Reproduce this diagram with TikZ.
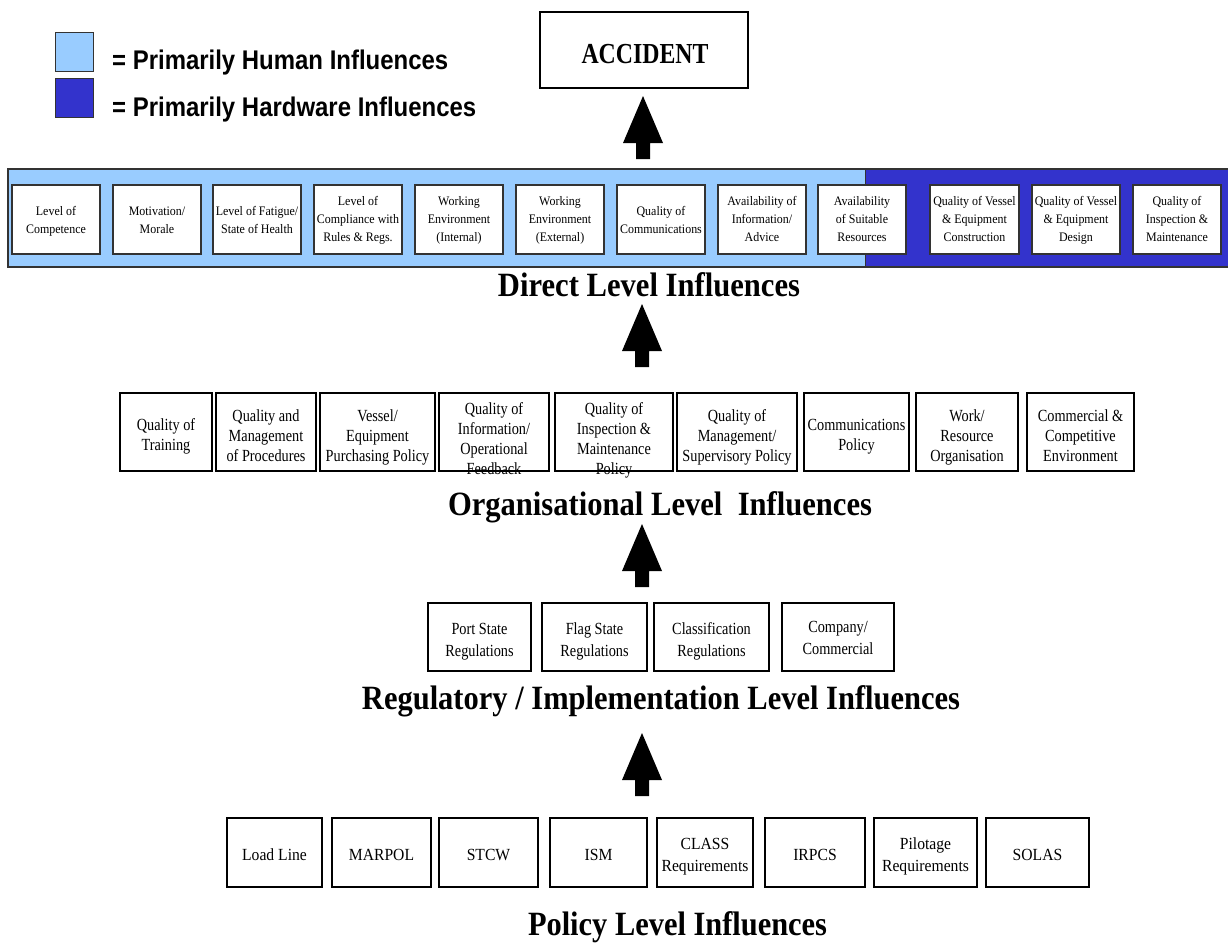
\documentclass[tikz,border=0pt]{standalone}
\usepackage{fontspec}
\usepackage{graphicx}
\setmainfont{Liberation Serif}
\setsansfont{Liberation Sans}

\definecolor{humanblue}{HTML}{99CCFF}
\definecolor{hardblue}{HTML}{3333CC}

% multi-line, horizontally condensed cell text
\newcommand{\cellstack}[2]{\scalebox{#1}[1]{\begin{tabular}{@{}c@{}}#2\end{tabular}}}
\newcommand{\dirtext}[1]{{\fontsize{13}{18}\selectfont\cellstack{0.92}{#1}}}
\newcommand{\orgtext}[1]{{\fontsize{17}{20}\selectfont\cellstack{0.84}{#1}}}
\newcommand{\regtext}[1]{{\fontsize{17}{22}\selectfont\cellstack{0.84}{#1}}}
\newcommand{\poltext}[1]{{\fontsize{17}{22}\selectfont\cellstack{0.92}{#1}}}

% box node plus its text node: style, name, x, y, width, text shift, text
\newcommand{\cellbox}[7]{%
  \node[#1, minimum width=#5pt] (#2) at (#3,#4) {};
  \node[celltext, yshift=#6pt] (#2t) at (#2.center) {#7};}

% thick upward block arrow, given its tip
\newcommand{\blockarrow}[1]{%
  \fill (#1) -- ++(20,47) -- ++(-13,0) -- ++(0,16) -- ++(-14,0)
             -- ++(0,-16) -- ++(-13,0) -- cycle;}

\begin{document}
\begin{tikzpicture}[x=1pt, y=-1pt,
  celltext/.style={inner sep=0pt, outer sep=0pt},
  dirbox/.style={draw=black!80, line width=1.3pt, fill=white, inner sep=0pt, minimum height=69pt},
  orgbox/.style={draw=black, line width=2.6pt, fill=white, inner sep=0pt, minimum height=78pt},
  regbox/.style={draw=black, line width=2.1pt, fill=white, inner sep=0pt, minimum height=68pt},
  polbox/.style={draw=black, line width=2.1pt, fill=white, inner sep=0pt, minimum height=69pt},
  legsq/.style={draw=black!80, line width=1pt, inner sep=0pt, minimum width=38pt, minimum height=39pt},
  legtext/.style={anchor=base west, inner sep=0pt, font=\sffamily\bfseries\fontsize{27}{27}\selectfont},
  title/.style={anchor=base, inner sep=0pt, font=\bfseries\fontsize{34}{34}\selectfont},
]
\useasboundingbox (0,0) rectangle (1228,943);
\fill[white] (0,0) rectangle (1228,943);

% ---------- legend ----------
\node[legsq, fill=humanblue] (leghuman) at (74,51.5) {};
\node[legsq, fill=hardblue] (leghard) at (74,97.5) {};
\node[legtext] (leghumant) at (112,69) {\resizebox{336pt}{\height}{= Primarily Human Influences}};
\node[legtext] (leghardt) at (112,116) {\resizebox{364pt}{\height}{= Primarily Hardware Influences}};

% ---------- accident ----------
\node[draw, line width=2.2pt, minimum width=208pt, minimum height=76pt, inner sep=0pt] (accident) at (644,50) {};
\node[anchor=base, inner sep=0pt, font=\bfseries\fontsize{29}{29}\selectfont] (accidentt) at (645,63)
  {\resizebox{127pt}{\height}{ACCIDENT}};

\coordinate (tipA) at (643,96);
\blockarrow{tipA}

% ---------- direct level band ----------
\fill[humanblue] (8,169) rectangle (865,268);
\fill[hardblue] (865,169) rectangle (1228,268);
\draw[black!80, line width=1.3pt] (1228,169) -- (8,169) -- (8,268);
\draw[black!80, line width=1pt] (865,169) -- (865,268);
\draw[black!80, line width=2.6pt] (8,267) -- (1228,267);

\cellbox{dirbox}{d1}{56}{219.5}{88}{-1}{\dirtext{Level of\\Competence}}
\cellbox{dirbox}{d2}{157}{219.5}{88}{-1}{\dirtext{Motivation/\\Morale}}
\cellbox{dirbox}{d3}{257}{219.5}{88}{-1}{\dirtext{Level of Fatigue/\\State of Health}}
\cellbox{dirbox}{d4}{358}{219.5}{88}{0}{\dirtext{Level of\\Compliance with\\Rules \& Regs.}}
\cellbox{dirbox}{d5}{459}{219.5}{88}{0}{\dirtext{Working\\Environment\\(Internal)}}
\cellbox{dirbox}{d6}{560}{219.5}{88}{0}{\dirtext{Working\\Environment\\(External)}}
\cellbox{dirbox}{d7}{661}{219.5}{88}{-1}{\dirtext{Quality of\\Communications}}
\cellbox{dirbox}{d8}{762}{219.5}{88}{0}{\dirtext{Availability of\\Information/\\Advice}}
\cellbox{dirbox}{d9}{862}{219.5}{88}{0}{\dirtext{Availability\\of Suitable\\Resources}}
\cellbox{dirbox}{d10}{974.5}{219.5}{89}{0}{\dirtext{Quality of Vessel\\\& Equipment\\Construction}}
\cellbox{dirbox}{d11}{1076}{219.5}{88}{0}{\dirtext{Quality of Vessel\\\& Equipment\\Design}}
\cellbox{dirbox}{d12}{1177}{219.5}{88}{0}{\dirtext{Quality of\\Inspection \&\\Maintenance}}

\node[title] (direct) at (649,296) {\resizebox{302pt}{\height}{Direct Level Influences}};

\coordinate (tipB) at (642,304);
\blockarrow{tipB}

% ---------- organisational level ----------
\cellbox{orgbox}{o1}{166}{432}{92}{-4}{\orgtext{Quality of\\Training}}
\cellbox{orgbox}{o2}{266}{432}{100}{-5}{\orgtext{Quality and\\Management\\of Procedures}}
\cellbox{orgbox}{o3}{377.5}{432}{115}{-5}{\orgtext{Vessel/\\Equipment\\Purchasing Policy}}
\cellbox{orgbox}{o4}{494}{432}{110}{-8}{\orgtext{Quality of\\Information/\\Operational\\Feedback}}
\cellbox{orgbox}{o5}{614}{432}{118}{-8}{\orgtext{Quality of\\Inspection \&\\Maintenance\\Policy}}
\cellbox{orgbox}{o6}{737}{432}{120}{-5}{\orgtext{Quality of\\Management/\\Supervisory Policy}}
\cellbox{orgbox}{o7}{856.5}{432}{105}{-4}{\orgtext{Communications\\Policy}}
\cellbox{orgbox}{o8}{967}{432}{102}{-5}{\orgtext{Work/\\Resource\\Organisation}}
\cellbox{orgbox}{o9}{1080.5}{432}{107}{-5}{\orgtext{Commercial \&\\Competitive\\Environment}}

\node[title] (organisational) at (660,515) {\resizebox{424pt}{\height}{Organisational Level~ Influences}};

\coordinate (tipC) at (642,524);
\blockarrow{tipC}

% ---------- regulatory / implementation level ----------
\cellbox{regbox}{r1}{479.5}{637}{103}{-4.5}{\regtext{Port State\\Regulations}}
\cellbox{regbox}{r2}{594.5}{637}{105}{-4.5}{\regtext{Flag State\\Regulations}}
\cellbox{regbox}{r3}{711.5}{637}{115}{-4.5}{\regtext{Classification\\Regulations}}
\cellbox{regbox}{r4}{838}{637}{112}{-2}{\regtext{Company/\\Commercial}}

\node[title] (regulatory) at (661,709) {\resizebox{598pt}{\height}{Regulatory / Implementation Level Influences}};

\coordinate (tipD) at (642,733);
\blockarrow{tipD}

% ---------- policy level ----------
\cellbox{polbox}{p1}{274.5}{852.5}{95}{-4}{\poltext{Load Line}}
\cellbox{polbox}{p2}{381.5}{852.5}{99}{-4}{\poltext{MARPOL}}
\cellbox{polbox}{p3}{488.5}{852.5}{99}{-4}{\poltext{STCW}}
\cellbox{polbox}{p4}{598.5}{852.5}{97}{-4}{\poltext{ISM}}
\cellbox{polbox}{p5}{705}{852.5}{96}{-4}{\poltext{CLASS\\Requirements}}
\cellbox{polbox}{p6}{815}{852.5}{100}{-4}{\poltext{IRPCS}}
\cellbox{polbox}{p7}{925.5}{852.5}{103}{-4}{\poltext{Pilotage\\Requirements}}
\cellbox{polbox}{p8}{1037.5}{852.5}{103}{-4}{\poltext{SOLAS}}

\node[title] (policy) at (677.5,935) {\resizebox{299pt}{\height}{Policy Level Influences}};
\end{tikzpicture}
\end{document}
